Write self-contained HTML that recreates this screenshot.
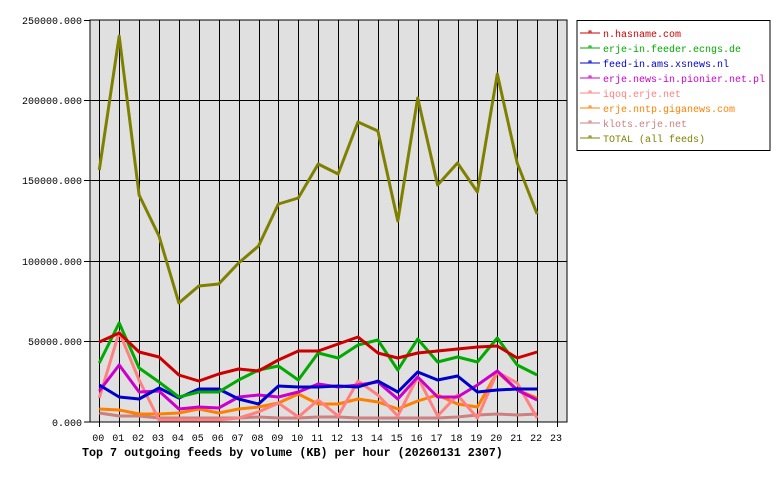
<!DOCTYPE html>
<html><head><meta charset="utf-8"><style>
html,body{margin:0;padding:0;background:#fff;}
svg{display:block;font-family:"Liberation Mono",monospace;}
</style></head><body>
<svg width="780" height="480" xmlns="http://www.w3.org/2000/svg">
<rect x="90" y="20" width="477" height="402" fill="#e0e0e0" stroke="#000" stroke-width="1"/>
<g stroke="#000" stroke-width="1">
<line x1="90" y1="100.5" x2="567" y2="100.5"/>
<line x1="90" y1="180.5" x2="567" y2="180.5"/>
<line x1="90" y1="261.5" x2="567" y2="261.5"/>
<line x1="90" y1="341.5" x2="567" y2="341.5"/>
<line x1="84" y1="20.5" x2="90" y2="20.5"/>
<line x1="84" y1="100.5" x2="90" y2="100.5"/>
<line x1="84" y1="180.5" x2="90" y2="180.5"/>
<line x1="84" y1="261.5" x2="90" y2="261.5"/>
<line x1="84" y1="341.5" x2="90" y2="341.5"/>
<line x1="84" y1="422" x2="90" y2="422"/>
</g>
<g id="vg" stroke="#000" stroke-width="1"></g>
<g font-size="10" text-anchor="end" fill="#000">
<text x="82" y="24">250000.000</text>
<text x="82" y="104">200000.000</text>
<text x="82" y="184">150000.000</text>
<text x="82" y="265">100000.000</text>
<text x="82" y="345">50000.000</text>
<text x="82" y="426">0.000</text>
</g>
<g id="xl" font-size="10" text-anchor="middle" fill="#000"></g>
<g id="series" fill="none" stroke-width="3" stroke-linejoin="round"></g>
<text x="82" y="456" font-size="11.7" font-weight="bold">Top 7 outgoing feeds by volume (KB) per hour (20260131 2307)</text>
<rect x="577" y="20.5" width="193" height="130" fill="#fff" stroke="#000"/>
<g id="leg" font-size="10"></g>
</svg>
<script>
var ns="http://www.w3.org/2000/svg";
function X(i){return 99.3+19.9*i;}
var vg=document.getElementById('vg'),xl=document.getElementById('xl');
for(var i=0;i<24;i++){
 var l=document.createElementNS(ns,'line');var x=Math.round(X(i))+0.5;
 l.setAttribute('x1',x);l.setAttribute('x2',x);l.setAttribute('y1',20);l.setAttribute('y2',427);vg.appendChild(l);
 var t=document.createElementNS(ns,'text');t.setAttribute('x',X(i)-1);t.setAttribute('y',441);t.textContent=(i<10?'0':'')+i;xl.appendChild(t);
}
var S=[
["#808000","TOTAL (all feeds)",[170,36,195,236,303,286,284,263,246,204,198,164,174,122,131,221,98,185,163,192,74,163,214]],
["#cc0000","n.hasname.com",[342,333,352,357,375,381,374,369,371,360,351,351,344,337,353,358,353,351,349,347,346,358,352]],
["#00aa00","erje-in.feeder.ecngs.de",[363,323,368,382,397,392,392,380,370,366,380,353,358,345,340,370,339,362,357,362,338,365,375]],
["#0000cc","feed-in.ams.xsnews.nl",[385,397,399,388,398,389,389,399,404,386,387,387,386,387,381,392,372,380,376,392,390,389,389]],
["#cc00cc","erje.news-in.pionier.net.pl",[391,365,392,391,409,407,408,397,395,397,392,384,387,385,382,399,377,397,397,385,371,390,400]],
["#ff8080","iqoq.erje.net",[398,332,380,420,420,420,420,418,412,403,417,400,416,381,395,416,377,416,395,418,372,383,418]],
["#ff8000","erje.nntp.giganews.com",[409,410,414,414,413,409,413,409,407,403,394,404,404,399,402,409,401,395,404,407,372,390,398]],
["#cc8080","klots.erje.net",[413,416,416,418,418,418,418,418,417,418,418,417,417,418,418,418,418,418,417,415,414,415,414]]
];
var g=document.getElementById('series');
for(var k=S.length-1;k>=0;k--){
 var p=document.createElementNS(ns,'polyline');
 p.setAttribute('points',S[k][2].map(function(y,i){return X(i).toFixed(1)+','+y;}).join(' '));
 p.setAttribute('stroke',S[k][0]);g.appendChild(p);
}
var order=[1,2,3,4,5,6,7,0],leg=document.getElementById('leg');
order.forEach(function(k,j){
 var y=33+15*j;
 var l=document.createElementNS(ns,'line');l.setAttribute('x1',580);l.setAttribute('x2',600);l.setAttribute('y1',y);l.setAttribute('y2',y);l.setAttribute('stroke',S[k][0]);leg.appendChild(l);
 var r=document.createElementNS(ns,'rect');r.setAttribute('x',589);r.setAttribute('y',y-2);r.setAttribute('width',2);r.setAttribute('height',2);r.setAttribute('fill','none');r.setAttribute('stroke',S[k][0]);r.setAttribute('stroke-width',1);leg.appendChild(r);
 var t=document.createElementNS(ns,'text');t.setAttribute('x',603);t.setAttribute('y',y+4);t.setAttribute('fill',S[k][0]);t.textContent=S[k][1];leg.appendChild(t);
});
</script>
</body></html>
